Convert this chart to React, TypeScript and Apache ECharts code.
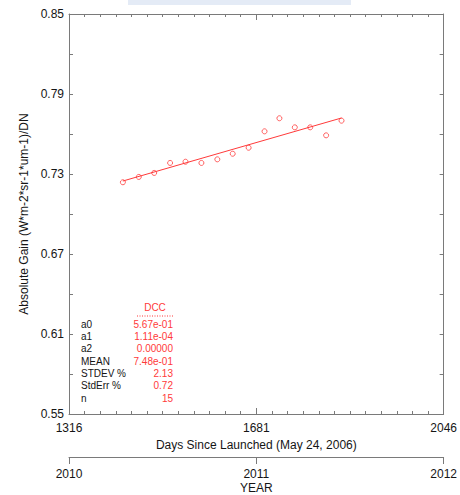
import React, { useEffect, useRef } from "react";
import * as echarts from "echarts";

// Days since launch (May 24, 2006) and absolute gain per DCC sample
const days = [1421, 1452, 1482, 1513, 1543, 1574, 1605, 1635, 1666, 1697, 1726, 1756, 1786, 1817, 1847];
const gains = [0.7238, 0.7278, 0.7308, 0.7383, 0.7392, 0.7383, 0.741, 0.7452, 0.7497, 0.762, 0.7718, 0.765, 0.765, 0.759, 0.77];

// Linear fit coefficients
const a0 = 0.567;
const a1 = 1.11e-4;

// Axis tick labels
const dayLabels = [1316, 1681, 2046];
const gainLabels = [0.55, 0.61, 0.67, 0.73, 0.79, 0.85];
const yearLabels = [2010, 2011, 2012];

// Statistics block
const statNames = ["a0", "a1", "a2", "MEAN", "STDEV %", "StdErr %", "n"];
const statValues = ["5.67e-01", "1.11e-04", "0.00000", "7.48e-01", "2.13", "0.72", "15"];
const statTitle = "DCC";

const FONT = '"Liberation Sans", Arial, Helvetica, sans-serif';
const AXIS = "#7a7a7a";
const TEXT = "#151515";
const RED = "#ff3a3a";

export default function App() {
  const ref = useRef<HTMLDivElement>(null);

  useEffect(() => {
    if (!ref.current) return;
    const chart = echarts.init(ref.current, undefined, { renderer: "svg" });

    // monthly minor ticks between labelled days
    const monthTicks: number[] = [];
    for (let i = 0; i < dayLabels.length - 1; i++) {
      const step = (dayLabels[i + 1] - dayLabels[i]) / 12;
      for (let k = 1; k < 12; k++) monthTicks.push(dayLabels[i] + k * step);
    }
    // gain ticks at labels and midpoints
    const gainTicks: number[] = [];
    gainLabels.forEach((v, i) => {
      gainTicks.push(v);
      if (i < gainLabels.length - 1) gainTicks.push((v + gainLabels[i + 1]) / 2);
    });
    const majorInner = dayLabels.slice(1, -1);

    const fitStart = days[0];
    const fitEnd = days[days.length - 1];

    const xBase = {
      type: "value" as const,
      gridIndex: 0,
      min: dayLabels[0],
      max: dayLabels[dayLabels.length - 1],
      splitLine: { show: false },
    };
    const yBase = {
      type: "value" as const,
      gridIndex: 0,
      min: gainLabels[0],
      max: gainLabels[gainLabels.length - 1],
      splitLine: { show: false },
      axisLine: { show: true, lineStyle: { color: AXIS, width: 1 } },
      axisTick: { show: true, inside: true, length: 4, customValues: gainTicks, lineStyle: { color: AXIS } },
    };

    const rowY0 = 324;
    const rowStep = 12.35;
    const statGraphics: any[] = [];
    statGraphics.push({
      type: "text",
      x: 155,
      y: 307,
      style: { text: statTitle, fill: RED, font: `10px ${FONT}`, textAlign: "center", textVerticalAlign: "middle" },
    });
    statGraphics.push({
      type: "line",
      shape: { x1: 137, y1: 316, x2: 173, y2: 316 },
      style: { stroke: RED, lineWidth: 1, lineDash: [1, 1.5] },
    });
    statNames.forEach((name, i) => {
      statGraphics.push({
        type: "text",
        x: 81,
        y: rowY0 + i * rowStep,
        style: { text: name, fill: TEXT, font: `10px ${FONT}`, textAlign: "left", textVerticalAlign: "middle" },
      });
      statGraphics.push({
        type: "text",
        x: 173,
        y: rowY0 + i * rowStep,
        style: { text: statValues[i], fill: RED, font: `10px ${FONT}`, textAlign: "right", textVerticalAlign: "middle" },
      });
    });

    const plain = (v: number) => String(Math.round(v));

    chart.setOption({
      animation: false,
      backgroundColor: "#ffffff",
      textStyle: { fontFamily: FONT },
      grid: [
        { left: 69, right: 15, top: 14, bottom: 81 },
        { left: 69, right: 15, top: 449, height: 10 },
      ],
      xAxis: [
        {
          ...xBase,
          position: "bottom",
          axisLine: { show: true, lineStyle: { color: AXIS, width: 1 } },
          axisTick: { show: true, inside: true, length: 3, customValues: monthTicks, lineStyle: { color: AXIS } },
          axisLabel: {
            customValues: dayLabels,
            formatter: plain,
            margin: 8,
            fontSize: 12,
            color: TEXT,
            fontFamily: FONT,
          },
          name: "Days Since Launched (May 24, 2006)",
          nameLocation: "middle",
          nameGap: 23,
          nameTextStyle: { fontSize: 12, color: TEXT, fontFamily: FONT },
        },
        {
          ...xBase,
          position: "bottom",
          axisLine: { show: false },
          axisTick: { show: true, inside: true, length: 6, customValues: majorInner, lineStyle: { color: AXIS } },
          axisLabel: { show: false },
        },
        {
          ...xBase,
          position: "top",
          axisLine: { show: true, lineStyle: { color: AXIS, width: 1 } },
          axisTick: { show: true, inside: true, length: 3, customValues: monthTicks, lineStyle: { color: AXIS } },
          axisLabel: { show: false },
        },
        {
          ...xBase,
          position: "top",
          axisLine: { show: false },
          axisTick: { show: true, inside: true, length: 6, customValues: majorInner, lineStyle: { color: AXIS } },
          axisLabel: { show: false },
        },
        {
          type: "value",
          gridIndex: 1,
          position: "bottom",
          min: yearLabels[0],
          max: yearLabels[yearLabels.length - 1],
          splitLine: { show: false },
          axisLine: { show: true, lineStyle: { color: AXIS, width: 1 } },
          axisTick: { show: true, inside: false, length: 7, customValues: yearLabels, lineStyle: { color: AXIS } },
          axisLabel: {
            customValues: yearLabels,
            formatter: plain,
            margin: 11,
            fontSize: 12,
            color: TEXT,
            fontFamily: FONT,
          },
          name: "YEAR",
          nameLocation: "middle",
          nameGap: 25,
          nameTextStyle: { fontSize: 12, color: TEXT, fontFamily: FONT },
        },
      ],
      yAxis: [
        {
          ...yBase,
          position: "left",
          axisLabel: {
            customValues: gainLabels,
            formatter: (v: number) => v.toFixed(2),
            margin: 5,
            fontSize: 12,
            color: TEXT,
            fontFamily: FONT,
          },
          name: "Absolute Gain (W*m-2*sr-1*um-1)/DN",
          nameLocation: "middle",
          nameGap: 27,
          nameRotate: 90,
          nameTextStyle: { fontSize: 12, color: TEXT, fontFamily: FONT },
        },
        {
          ...yBase,
          position: "right",
          axisLabel: { show: false },
        },
        {
          type: "value",
          gridIndex: 1,
          show: false,
          min: 0,
          max: 1,
        },
      ],
      series: [
        {
          type: "scatter",
          xAxisIndex: 0,
          yAxisIndex: 0,
          data: days.map((d, i) => [d, gains[i]]),
          symbol: "circle",
          symbolSize: 5,
          itemStyle: { color: "rgba(0,0,0,0)", borderColor: RED, borderWidth: 1 },
          z: 3,
        },
        {
          type: "line",
          xAxisIndex: 0,
          yAxisIndex: 0,
          data: [
            [fitStart, a0 + a1 * fitStart],
            [fitEnd, a0 + a1 * fitEnd],
          ],
          showSymbol: false,
          symbol: "none",
          lineStyle: { color: RED, width: 1 },
          z: 2,
        },
      ],
      graphic: [
        {
          type: "rect",
          shape: { x: 128, y: 0, width: 223, height: 5 },
          style: { fill: "#e4ebf6" },
        },
        ...statGraphics,
      ],
    });

    return () => chart.dispose();
  }, []);

  return (
    <div
      ref={ref}
      style={{ position: "absolute", left: 0, top: 0, width: 460, height: 495 }}
    />
  );
}
